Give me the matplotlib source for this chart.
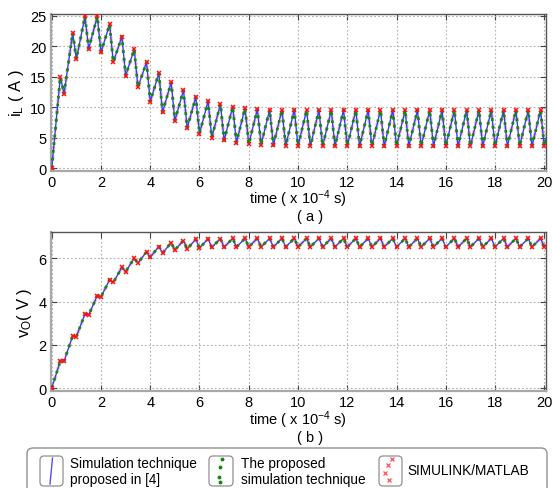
import matplotlib
matplotlib.use("Agg")
import matplotlib.pyplot as plt
from matplotlib.patches import FancyBboxPatch
from matplotlib.lines import Line2D
import numpy as np

plt.rcParams['font.family'] = ['Liberation Sans', 'DejaVu Sans']
plt.rcParams['mathtext.fontset'] = 'custom'
plt.rcParams['mathtext.rm'] = 'Liberation Sans'

# ---------------- data (time in units of 1e-4 s) ----------------
period = 0.5
on_time = 0.35
iL_start = 0.0
vo_start = 0.0
# inductor current at end of each on-interval (peaks), A
iL_peak = [15.0, 22.2, 24.9, 24.9, 23.6, 21.6, 19.5, 17.4, 15.6, 14.1,
           12.8, 11.7, 11.0, 10.55, 10.1, 9.9, 9.7, 9.6, 9.6, 9.6,
           9.55, 9.55, 9.55, 9.55, 9.55, 9.55, 9.55, 9.55, 9.55, 9.55,
           9.55, 9.55, 9.55, 9.55, 9.55, 9.55, 9.55, 9.55, 9.55, 9.55, 9.55]
# inductor current at end of each period (troughs), A
iL_trough = [12.2, 17.9, 19.6, 19.0, 17.4, 15.2, 13.3, 10.9, 9.2, 7.8,
             6.6, 5.7, 5.0, 4.57, 4.2, 3.95, 3.87, 3.76, 3.65, 3.62,
             3.6, 3.6, 3.6, 3.6, 3.6, 3.6, 3.6, 3.6, 3.6, 3.6,
             3.6, 3.6, 3.6, 3.6, 3.6, 3.6, 3.6, 3.6, 3.6, 3.6]
# output voltage at end of on-interval / end of period, V
vo_peak = [1.25, 2.40, 3.42, 4.27, 5.00, 5.58, 6.00, 6.30, 6.54, 6.72,
           6.82, 6.88, 6.90, 6.91, 6.92, 6.92, 6.92, 6.92, 6.92, 6.92,
           6.92, 6.92, 6.92, 6.92, 6.92, 6.92, 6.92, 6.92, 6.92, 6.92,
           6.92, 6.92, 6.92, 6.92, 6.92, 6.92, 6.92, 6.92, 6.92, 6.92, 6.92]
vo_trough = [1.25, 2.38, 3.38, 4.22, 4.88, 5.38, 5.78, 6.05, 6.24, 6.38,
             6.43, 6.47, 6.50, 6.51, 6.52, 6.52, 6.52, 6.52, 6.52, 6.52,
             6.52, 6.52, 6.52, 6.52, 6.52, 6.52, 6.52, 6.52, 6.52, 6.52,
             6.52, 6.52, 6.52, 6.52, 6.52, 6.52, 6.52, 6.52, 6.52, 6.52]

xticks = [0, 2, 4, 6, 8, 10, 12, 14, 16, 18, 20]
yticks_a = [0, 5, 10, 15, 20, 25]
yticks_b = [0, 2, 4, 6]
legend_labels = ["Simulation technique\nproposed in [4]",
                 "The proposed\nsimulation technique",
                 "SIMULINK/MATLAB"]

# vertices of the switching waveform
t = [0.0]
iL = [iL_start]
vo = [vo_start]
for k in range(len(iL_peak)):
    t.append(k * period + on_time)
    iL.append(iL_peak[k])
    vo.append(vo_peak[k])
    if k < len(iL_trough):
        t.append((k + 1) * period)
        iL.append(iL_trough[k])
        vo.append(vo_trough[k])
t = np.array(t); iL = np.array(iL); vo = np.array(vo)

W, H = 552, 489
fig = plt.figure(figsize=(W / 100, H / 100), dpi=100)

def axrect(l, r, top, bot):
    return [l / W, 1 - bot / H, (r - l) / W, (bot - top) / H]

ax1 = fig.add_axes(axrect(50.5, 545.5, 15, 171.7))
ax2 = fig.add_axes(axrect(50.5, 545.5, 233.3, 392.3))

def draw(ax, y):
    ax.plot(t, y, color='#ff8c8c', lw=2.6, ls=(0, (1.0, 1.6)), alpha=0.5, zorder=2)
    ax.plot(t, y, color='#3a3aff', lw=1.0, zorder=3)
    ax.plot(t, y, color='#118811', lw=2.0, ls=(0, (1.0, 1.8)), zorder=4)
    ax.plot(t, y, ls='none', marker='x', ms=3.0, mew=1.1, color='#ff1010', zorder=5)

draw(ax1, iL)
draw(ax2, vo)

for ax, yt, ylim, ylabel in [(ax1, yticks_a, (-0.4, 25.3), r'$\mathregular{i_L}$ ( A )'),
                             (ax2, yticks_b, (-0.15, 7.2), r'$\mathregular{v_O}$( V )')]:
    ax.set_xlim(-0.05, 20.05)
    ax.set_ylim(*ylim)
    ax.set_xticks(xticks)
    ax.set_yticks(yt)
    ax.tick_params(direction='in', length=4, width=0.8, top=True, right=True,
                   labelsize=10.5, colors='#444444', labelcolor='black', pad=3)
    ax.grid(True, color='#b0b0b0', ls=(0, (1.5, 2)), lw=0.8)
    for s in ['left', 'bottom']:
        ax.spines[s].set_color('#a8a8a8'); ax.spines[s].set_linewidth(1.6)
    for s in ['top', 'right']:
        ax.spines[s].set_color('#555555'); ax.spines[s].set_linewidth(1.0)
    ax.set_ylabel(ylabel, fontsize=12, labelpad=3)
    ax.set_xlabel(r'time ( x $\mathregular{10^{-4}}$ s)', fontsize=10.5, labelpad=-1)

fig.text(310 / W, 1 - 217 / H, '( a )', ha='center', va='center', fontsize=10.5)
fig.text(310 / W, 1 - 438 / H, '( b )', ha='center', va='center', fontsize=10.5)

# ---------------- legend (drawn by hand, MATLAB-like) ----------------
lg = fig.add_axes([0, 0, 1, 1], zorder=10)
lg.set_xlim(0, W); lg.set_ylim(H, 0); lg.axis('off')
lg.add_patch(FancyBboxPatch((27, 449), 520, 45, boxstyle='round,pad=0,rounding_size=6',
                            fc='white', ec='#909090', lw=1.0))
for (x0, x1) in [(40, 63), (209, 233), (379, 402)]:
    lg.add_patch(FancyBboxPatch((x0, 457), x1 - x0, 30, boxstyle='round,pad=0,rounding_size=4',
                                fc='white', ec='#909090', lw=0.9))
lg.add_line(Line2D([50, 52.5], [485, 459], color='#5050ff', lw=1.0))
lg.plot([222, 220, 219, 220], [460, 468, 478, 483], ls='none', marker='o', ms=1.8, color='#118811')
lg.plot([392, 388, 385, 389], [460, 466, 474, 481], ls='none', marker='x', ms=3.5, mew=0.9, color='#ff5050')
lg.text(70, 472, legend_labels[0], ha='left', va='center', fontsize=9.8, linespacing=1.15)
lg.text(241, 472, legend_labels[1], ha='left', va='center', fontsize=9.8, linespacing=1.15)
lg.text(407, 471, legend_labels[2], ha='left', va='center', fontsize=9.8)

fig.savefig('out.png', dpi=100)
